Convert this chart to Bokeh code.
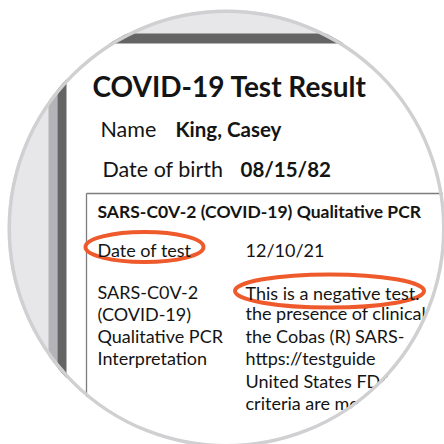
from bokeh.plotting import figure
from bokeh.models import Range1d
from bokeh.embed import file_html
from bokeh.resources import INLINE
from bokeh.core.properties import value

# ---- content ----
title = ["COVID-19 Test Result"]
field_labels = ["Name", "Date of birth"]
field_values = ["King, Casey", "08/15/82"]
table_header = ["SARS-C0V-2 (COVID-19) Qualitative PCR"]
test_label = ["Date of test"]
test_date = ["12/10/21"]
interp_label = ["SARS-C0V-2", "(COVID-19)", "Qualitative PCR", "Interpretation"]
result_main = ["This is a negative test."]
result_more = ["the presence of clinical", "the Cobas (R) SARS-", "https://testguide",
               "United States FDA", "criteria are mo"]

# ---- layout (pixel coords of the picture) ----
FONT = value("Lato")
INK = "#141414"
ORANGE = "#ee5a2b"
CX, CY, R = 226, 228, 219
W = 444

p = figure(width=W, height=W, x_range=Range1d(0, W), y_range=Range1d(W, 0),
           output_backend="svg", toolbar_location=None, min_border=0,
           background_fill_color="white", border_fill_color="white",
           outline_line_color=None)
p.axis.visible = False
p.grid.visible = False

# magnifier background
p.ellipse(x=[CX], y=[CY], width=[2 * R], height=[2 * R], fill_color="#e7e7e9", line_color=None)
# page stack edges
p.quad(left=[48], right=[57], top=[43], bottom=[600], fill_color="#b4b4b8", line_color=None)
p.quad(left=[57], right=[600], top=[33], bottom=[600], fill_color="#646464", line_color=None)
p.quad(left=[66], right=[600], top=[43], bottom=[600], fill_color="white", line_color=None)
# table border
p.segment(x0=[86, 86], y0=[193, 193], x1=[600, 86], y1=[193, 600], line_color="#7c7c7c", line_width=1.3)

def txt(xs, ys, texts, size, bold=False):
    # empirical correction: rendered alphabetic baseline sits ~0.4 em low
    p.text(x=xs, y=[y - 0.4 * size for y in ys], text=texts, text_font=FONT,
           text_font_size=f"{size}px",
           text_font_style="bold" if bold else "normal", text_color=INK,
           text_align="left", text_baseline="alphabetic")

txt([92], [97], title, 28, True)
txt([100, 102], [137, 177], field_labels, 21.5)
txt([175, 240], [137, 177], field_values, 20.5, True)
txt([97], [218], table_header, 17.5, True)
txt([245], [257], test_date, 18)
txt([97] * 4, [299, 321, 343, 365], interp_label, 18)
txt([245] * 5, [320, 343, 365, 388, 410], result_more, 18)

# highlight ellipses
p.ellipse(x=[144, 329], y=[246.5, 290.5], width=[118, 189], height=[30, 33],
          fill_color="white", line_color=ORANGE, line_width=4)
txt([97], [257], test_label, 18)
txt([245], [300], result_main, 18)

# mask outside the lens + rim
p.annulus(x=[CX], y=[CY], inner_radius=R, outer_radius=520, fill_color="white", line_color=None)
p.ellipse(x=[CX], y=[CY], width=[2 * R - 3.5], height=[2 * R - 3.5], fill_color=None,
          line_color="#d0d0d3", line_width=3.5)

open("out.html", "w").write(file_html(p, INLINE))
